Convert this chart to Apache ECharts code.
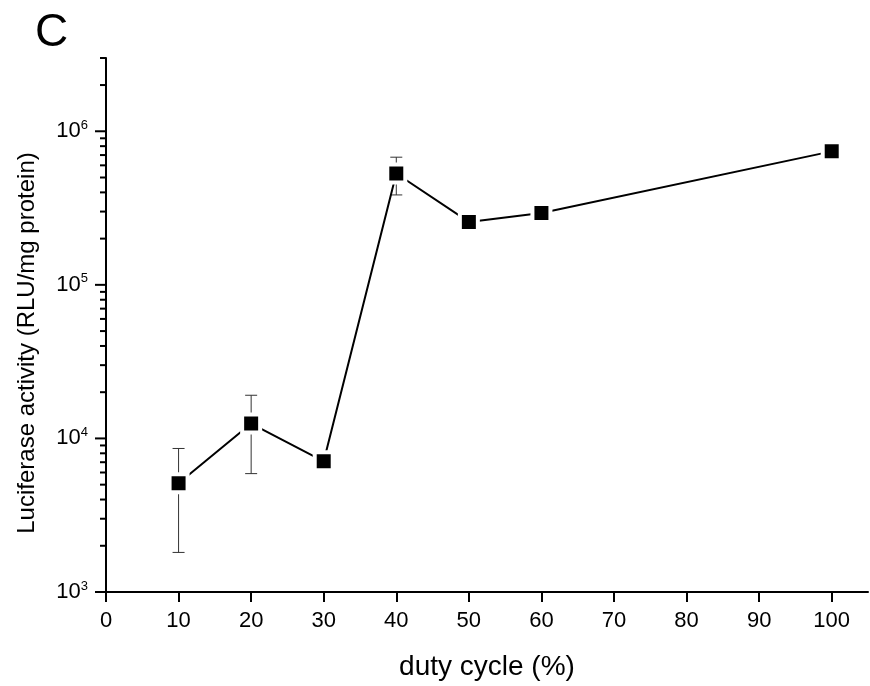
<!DOCTYPE html>
<html><head><meta charset="utf-8">
<script src="https://cdn.jsdelivr.net/npm/echarts@6/dist/echarts.min.js"></script>
<style>html,body{margin:0;padding:0;background:#fff}#c{width:870px;height:686px}</style>
</head><body><div id="c"></div>
<script>
const dutyCycle = [10, 20, 30, 40, 50, 60, 100];
const luciferase = [5100, 12500, 7100, 531000, 257000, 294000, 740000];
const errUpper = [8600, 19100, null, 678000, null, null, null];
const errLower = [1810, 5900, null, 385000, null, null, null];
const xTicks = [0, 10, 20, 30, 40, 50, 60, 70, 80, 90, 100];
const yMajorTicks = [1e3, 1e4, 1e5, 1e6];
const yMinorTicks = [2e3,3e3,4e3,5e3,6e3,7e3,8e3,9e3,2e4,3e4,4e4,5e4,6e4,7e4,8e4,9e4,2e5,3e5,4e5,5e5,6e5,7e5,8e5,9e5,2e6,3e6];

const FONT = '"Liberation Sans", Arial, sans-serif';
const chart = echarts.init(document.getElementById('c'), null, {renderer:'canvas'});

const lineData = dutyCycle.map((x, i) => [x, luciferase[i]]);
const errData = [];
dutyCycle.forEach((x, i) => { if (errUpper[i] != null) errData.push([x, errLower[i], errUpper[i]]); });
const tickData = yMajorTicks.map(v => [0, v, 11]).concat(yMinorTicks.map(v => [0, v, 6]));

const supExp = v => Math.round(Math.log10(v));

chart.setOption({
  animation: false,
  title: { text: 'C', left: 30, top: 5, textStyle: { fontFamily: FONT, fontSize: 46, fontWeight: 'normal', color: '#000' } },
  grid: { left: 106, right: 2, top: 58, bottom: 94, containLabel: false },
  xAxis: {
    type: 'value', min: 0, max: 105, interval: 10,
    name: 'duty cycle (%)', nameLocation: 'middle', nameGap: 61,
    nameTextStyle: { fontFamily: FONT, fontSize: 28, color: '#000' },
    axisLine: { lineStyle: { color: '#000', width: 2 } },
    axisTick: { show: true, length: 10, lineStyle: { width: 2, color: '#000' }, customValues: xTicks },
    axisLabel: { customValues: xTicks, margin: 18, fontFamily: FONT, fontSize: 22, color: '#000' },
    splitLine: { show: false }
  },
  yAxis: {
    type: 'log', min: 1000, max: 3e6, logBase: 10,
    name: 'Luciferase activity (RLU/mg protein)', nameLocation: 'middle', nameGap: 67,
    nameTextStyle: { fontFamily: FONT, fontSize: 24, color: '#000', padding: [0, 36, 0, 0] },
    axisLine: { show: true, lineStyle: { color: '#000', width: 2 } },
    axisTick: { show: false },
    axisLabel: {
      customValues: yMajorTicks, margin: 18,
      formatter: v => '10{sup|' + supExp(v) + '}',
      rich: { sup: { fontFamily: FONT, fontSize: 13, verticalAlign: 'top', padding: [0,0,12,0], color: '#000' } },
      fontFamily: FONT, fontSize: 22, color: '#000'
    },
    splitLine: { show: false }
  },
  series: [
    {
      type: 'custom', name: 'yTicks', z: 1,
      data: tickData,
      renderItem: (params, api) => {
        const p = api.coord([0, api.value(1)]);
        const len = api.value(2);
        return { type: 'line', shape: { x1: p[0] - len, y1: p[1], x2: p[0], y2: p[1] }, style: { stroke: '#000', lineWidth: 2 } };
      },
      clip: false, silent: true
    },
    {
      type: 'custom', name: 'err', z: 2,
      data: errData,
      renderItem: (params, api) => {
        const x = api.value(0);
        const lo = api.coord([x, api.value(1)]);
        const hi = api.coord([x, api.value(2)]);
        const hw = 6;
        const st = { stroke: '#333', lineWidth: 1 };
        return { type: 'group', children: [
          { type: 'line', shape: { x1: lo[0], y1: lo[1], x2: hi[0], y2: hi[1] }, style: st },
          { type: 'line', shape: { x1: lo[0]-hw, y1: lo[1], x2: lo[0]+hw, y2: lo[1] }, style: st },
          { type: 'line', shape: { x1: hi[0]-hw, y1: hi[1], x2: hi[0]+hw, y2: hi[1] }, style: st }
        ]};
      },
      silent: true
    },
    {
      type: 'line', name: 'activity', z: 3,
      data: lineData,
      symbol: 'rect', symbolSize: 18,
      itemStyle: { color: '#000', borderColor: '#fff', borderWidth: 4 },
      lineStyle: { color: '#000', width: 2 }
    }
  ]
});
</script></body></html>
